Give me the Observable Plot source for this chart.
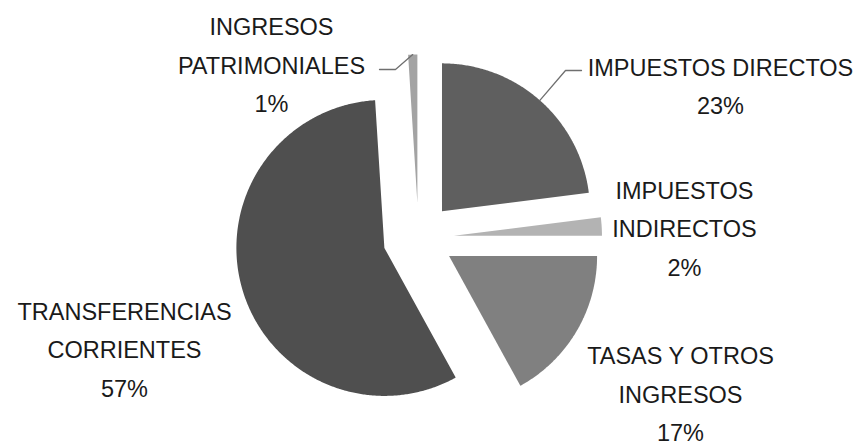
<!DOCTYPE html>
<html>
<head>
<meta charset="utf-8">
<script src="https://cdn.jsdelivr.net/npm/d3@7"></script>
<script src="https://cdn.jsdelivr.net/npm/@observablehq/plot@0.6"></script>
<style>
  html, body { margin: 0; padding: 0; background: #fff; }
  #chart svg { display: block; }
</style>
</head>
<body>
<div id="chart"></div>
<script>
// ---- data ----
const categories = ["IMPUESTOS DIRECTOS", "IMPUESTOS INDIRECTOS", "TASAS Y OTROS INGRESOS", "TRANSFERENCIAS CORRIENTES", "INGRESOS PATRIMONIALES"];
const values = [23, 2, 17, 57, 1];
const labelTexts = ["IMPUESTOS DIRECTOS", "IMPUESTOS\nINDIRECTOS", "TASAS Y OTROS\nINGRESOS", "TRANSFERENCIAS\nCORRIENTES", "INGRESOS\nPATRIMONIALES"];

// ---- style / layout ----
const palette = ["#5f5f5f", "#b3b3b3", "#808080", "#4f4f4f", "#a3a3a3"];
const W = 861, H = 445;
const CX = 418, CY = 237.5, R = 148;   // pie centre & radius in pixels
const EXPLODE = 0.24;                   // explosion as fraction of radius
// label block centres (pixels)
const labelPos = [[720, 82], [684, 224.5], [680, 390], [124, 345.5], [271, 61]];
// leader-line elbows (pixels) for labels that have one: [elbow, end]
const leaderPts = {0: [[565, 70], [581, 70]], 4: [[395, 69], [379, 69]]};

const toX = px => (px - CX) / R;
const toY = py => (CY - py) / R;

const arcs = d3.pie().sort(null).value(d => d)(values);

const slicePts = [];
const labels = [];
const leaders = [];
arcs.forEach((a, i) => {
  const a0 = a.startAngle, a1 = a.endAngle, m = (a0 + a1) / 2;
  const ox = EXPLODE * Math.sin(m), oy = EXPLODE * Math.cos(m);
  const name = categories[i], color = palette[i];
  slicePts.push({name, color, x: ox, y: oy});
  const n = Math.max(2, Math.ceil((a1 - a0) / (Math.PI / 360)));
  for (let k = 0; k <= n; k++) {
    const t = a0 + (a1 - a0) * k / n;
    slicePts.push({name, color, x: ox + Math.sin(t), y: oy + Math.cos(t)});
  }
  slicePts.push({name, color, x: ox, y: oy});
  labels.push({
    text: labelTexts[i] + "\n" + values[i] + "%",
    x: toX(labelPos[i][0]), y: toY(labelPos[i][1])
  });
  if (leaderPts[i]) {
    leaders.push({name, x: ox + Math.sin(m), y: oy + Math.cos(m)});
    leaderPts[i].forEach(([px, py]) => leaders.push({name, x: toX(px), y: toY(py)}));
  }
});

const chart = Plot.plot({
  width: W,
  height: H,
  margin: 0,
  x: {domain: [-CX / R, (W - CX) / R], axis: null},
  y: {domain: [-(H - CY) / R, CY / R], axis: null},
  color: {type: "identity"},
  marks: [
    Plot.line(slicePts, {x: "x", y: "y", z: "name", fill: "color", stroke: "none", curve: "linear"}),
    Plot.line(leaders, {x: "x", y: "y", z: "name", stroke: "#6f6f6f", strokeWidth: 1.3, fill: "none"}),
    Plot.text(labels, {
      x: "x", y: "y", text: "text",
      fontSize: 23.5, fontFamily: "Liberation Sans", fill: "#1a1a1a",
      lineHeight: 1.64, textAnchor: "middle"
    })
  ]
});
document.getElementById("chart").appendChild(chart);
</script>
</body>
</html>
